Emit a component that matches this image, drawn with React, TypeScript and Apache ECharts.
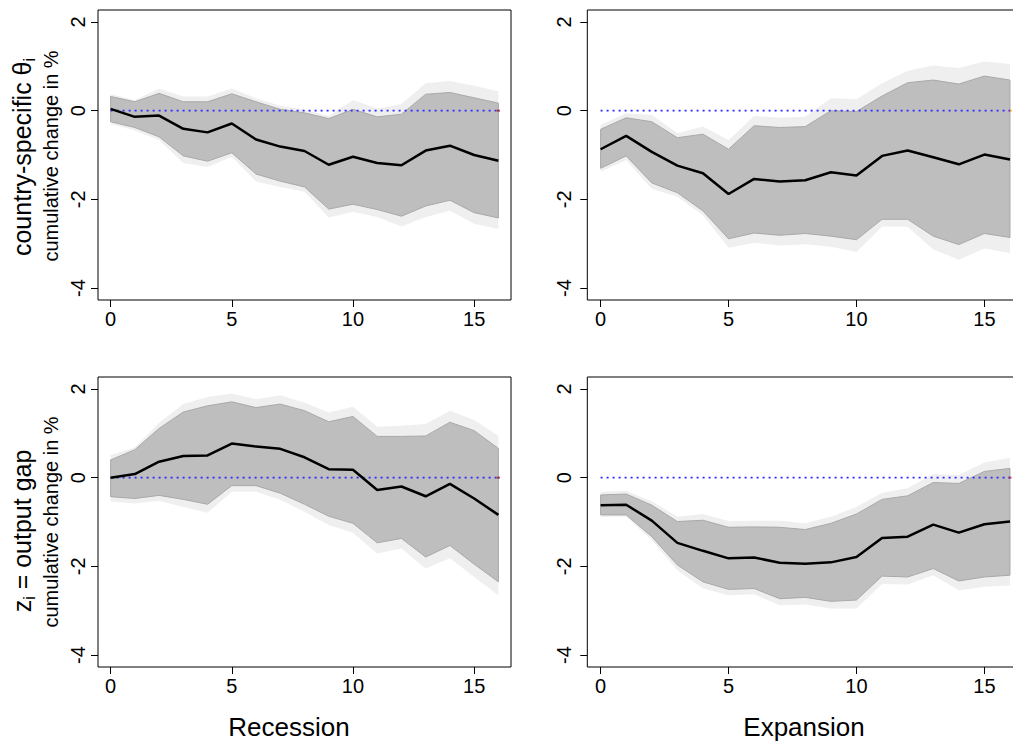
import React, { useEffect, useRef } from "react";
import * as echarts from "echarts";

const FONT = '"Liberation Sans", Arial, Helvetica, sans-serif';

// ---------- data ----------
const horizons = [0, 1, 2, 3, 4, 5, 6, 7, 8, 9, 10, 11, 12, 13, 14, 15, 16];
const xTicks = [0, 5, 10, 15];
const yTicks = [-4, -2, 0, 2];
const baseline = 0;

// Recession, country-specific theta
const recThetaMedian = [0.04, -0.14, -0.11, -0.41, -0.49, -0.29, -0.65, -0.81, -0.91, -1.22, -1.04, -1.18, -1.23, -0.9, -0.79, -1.0, -1.13];
const recThetaInnerUp = [0.32, 0.2, 0.39, 0.2, 0.2, 0.38, 0.2, 0.03, -0.05, -0.18, 0.03, -0.14, -0.08, 0.37, 0.41, 0.29, 0.17];
const recThetaInnerLo = [-0.25, -0.38, -0.59, -1.02, -1.14, -0.95, -1.43, -1.59, -1.72, -2.22, -2.11, -2.23, -2.38, -2.15, -2.02, -2.3, -2.42];
const recThetaOuterUp = [0.37, 0.24, 0.5, 0.32, 0.32, 0.5, 0.28, 0.11, 0.02, -0.12, 0.24, 0.05, 0.15, 0.62, 0.67, 0.56, 0.44];
const recThetaOuterLo = [-0.3, -0.45, -0.66, -1.18, -1.27, -1.04, -1.6, -1.72, -1.83, -2.41, -2.28, -2.4, -2.61, -2.4, -2.26, -2.55, -2.67];

// Expansion, country-specific theta
const expThetaMedian = [-0.87, -0.57, -0.93, -1.24, -1.41, -1.88, -1.54, -1.6, -1.57, -1.39, -1.46, -1.02, -0.9, -1.05, -1.21, -0.99, -1.1];
const expThetaInnerUp = [-0.42, -0.16, -0.25, -0.61, -0.53, -0.87, -0.34, -0.38, -0.36, 0.0, -0.02, 0.33, 0.63, 0.69, 0.6, 0.78, 0.69];
const expThetaInnerLo = [-1.3, -1.02, -1.63, -1.85, -2.26, -2.89, -2.76, -2.81, -2.77, -2.83, -2.91, -2.45, -2.45, -2.83, -3.02, -2.77, -2.86];
const expThetaOuterUp = [-0.32, -0.06, -0.1, -0.51, -0.36, -0.66, -0.12, -0.16, -0.14, 0.28, 0.26, 0.62, 0.9, 1.02, 0.96, 1.11, 1.05];
const expThetaOuterLo = [-1.38, -1.11, -1.76, -1.94, -2.36, -3.09, -2.98, -3.04, -3.01, -3.07, -3.19, -2.61, -2.62, -3.13, -3.36, -3.11, -3.21];

// Recession, output gap
const recGapMedian = [0.0, 0.08, 0.36, 0.49, 0.5, 0.77, 0.7, 0.65, 0.46, 0.19, 0.18, -0.28, -0.2, -0.42, -0.14, -0.47, -0.84];
const recGapInnerUp = [0.4, 0.63, 1.11, 1.48, 1.62, 1.71, 1.58, 1.66, 1.51, 1.26, 1.38, 0.93, 0.93, 0.94, 1.25, 1.06, 0.66];
const recGapInnerLo = [-0.43, -0.47, -0.4, -0.49, -0.6, -0.18, -0.18, -0.35, -0.6, -0.87, -1.03, -1.47, -1.37, -1.79, -1.53, -1.95, -2.35];
const recGapOuterUp = [0.51, 0.68, 1.24, 1.66, 1.82, 1.9, 1.77, 1.86, 1.69, 1.47, 1.6, 1.15, 1.17, 1.21, 1.51, 1.3, 0.94];
const recGapOuterLo = [-0.54, -0.58, -0.52, -0.66, -0.79, -0.32, -0.32, -0.5, -0.77, -1.07, -1.24, -1.71, -1.6, -2.05, -1.82, -2.24, -2.65];

// Expansion, output gap
const expGapMedian = [-0.62, -0.61, -0.97, -1.47, -1.65, -1.82, -1.8, -1.92, -1.94, -1.91, -1.79, -1.36, -1.33, -1.06, -1.24, -1.05, -0.99];
const expGapInnerUp = [-0.39, -0.37, -0.62, -0.99, -0.96, -1.12, -1.11, -1.12, -1.17, -1.03, -0.82, -0.49, -0.41, -0.11, -0.13, 0.14, 0.21];
const expGapInnerLo = [-0.84, -0.84, -1.33, -1.97, -2.35, -2.52, -2.5, -2.73, -2.7, -2.79, -2.76, -2.22, -2.24, -2.05, -2.33, -2.24, -2.2];
const expGapOuterUp = [-0.32, -0.3, -0.53, -0.88, -0.82, -0.98, -0.97, -0.97, -1.03, -0.88, -0.66, -0.34, -0.24, 0.08, 0.06, 0.34, 0.45];
const expGapOuterLo = [-0.88, -0.88, -1.41, -2.09, -2.5, -2.65, -2.63, -2.88, -2.86, -2.95, -2.95, -2.4, -2.41, -2.2, -2.54, -2.46, -2.43];

const columnTitles = ["Recession", "Expansion"];
const yAxisSubtitle = "cumulative change in %";

// ---------- layout ----------
const panels = [
  { grid: { left: 98, top: 10, width: 413, height: 290 }, med: recThetaMedian, iu: recThetaInnerUp, il: recThetaInnerLo, ou: recThetaOuterUp, ol: recThetaOuterLo, endColor: "#a01010", labelMargin: 10 },
  { grid: { left: 587.3, top: 10, width: 436, height: 290 }, med: expThetaMedian, iu: expThetaInnerUp, il: expThetaInnerLo, ou: expThetaOuterUp, ol: expThetaOuterLo, endColor: "#ff8000", labelMargin: 13 },
  { grid: { left: 98, top: 377, width: 413, height: 290 }, med: recGapMedian, iu: recGapInnerUp, il: recGapInnerLo, ou: recGapOuterUp, ol: recGapOuterLo, endColor: "#a01010", labelMargin: 10 },
  { grid: { left: 587.3, top: 377, width: 436, height: 290 }, med: expGapMedian, iu: expGapInnerUp, il: expGapInnerLo, ou: expGapOuterUp, ol: expGapOuterLo, endColor: "#e02020", labelMargin: 13 },
];

function bandSeries(gi: number, lo: number[], hi: number[], fill: string, stroke: string, lw: number) {
  return {
    type: "custom",
    xAxisIndex: gi,
    yAxisIndex: gi,
    silent: true,
    data: horizons.map((h, i) => [h, lo[i], hi[i]]),
    encode: { x: 0, y: [1, 2] },
    renderItem: (params: any, api: any) => {
      if (params.dataIndex !== 0) return null;
      const pts: number[][] = [];
      for (let i = 0; i < horizons.length; i++) pts.push(api.coord([horizons[i], hi[i]]));
      for (let i = horizons.length - 1; i >= 0; i--) pts.push(api.coord([horizons[i], lo[i]]));
      return {
        type: "polygon",
        shape: { points: pts },
        style: { fill, stroke, lineWidth: lw },
      };
    },
  };
}

export default function App() {
  const ref = useRef<HTMLDivElement>(null);

  useEffect(() => {
    document.body.style.margin = "0";
    document.body.style.overflow = "hidden";
    const chart = echarts.init(ref.current!, undefined, { renderer: "svg" });

    const grids = panels.map((p) => ({
      ...p.grid,
      show: true,
      borderColor: "#000",
      borderWidth: 1,
      backgroundColor: "transparent",
      containLabel: false,
      outerBoundsMode: "none",
    }));

    const xAxes = panels.map((p, i) => ({
      type: "value",
      gridIndex: i,
      position: "bottom",
      min: -0.52,
      max: 16.52,
      axisLine: { show: false, onZero: false },
      splitLine: { show: false },
      axisTick: { show: true, inside: false, length: 7, customValues: xTicks, lineStyle: { color: "#000", width: 1 } },
      axisLabel: { show: true, customValues: xTicks, fontSize: 20, color: "#000", fontFamily: FONT, margin: 9 },
    }));

    const yAxes = panels.map((p, i) => ({
      type: "value",
      gridIndex: i,
      position: "left",
      min: -4.27,
      max: 2.27,
      axisLine: { show: false, onZero: false },
      splitLine: { show: false },
      axisTick: { show: true, inside: false, length: 7, customValues: yTicks, lineStyle: { color: "#000", width: 1 } },
      axisLabel: { show: true, customValues: yTicks, rotate: 90, fontSize: 20, color: "#000", fontFamily: FONT, margin: p.labelMargin },
    }));

    const series: any[] = [];
    panels.forEach((p, i) => {
      series.push(bandSeries(i, p.ol, p.ou, "#efefef", "none", 0));
      series.push(bandSeries(i, p.il, p.iu, "#bebebe", "#a9a9a9", 1));
      series.push({
        type: "line",
        xAxisIndex: i,
        yAxisIndex: i,
        data: [horizons[0], horizons[horizons.length - 1]].map((h) => [h, baseline]),
        symbol: "none",
        silent: true,
        lineStyle: { color: "#2a2aff", width: 1.6, type: [2, 4] },
      });
      series.push({
        type: "line",
        xAxisIndex: i,
        yAxisIndex: i,
        data: horizons.map((h, k) => [h, p.med[k]]),
        symbol: "none",
        silent: true,
        lineStyle: { color: "#000", width: 2.5 },
      });
      series.push({
        type: "scatter",
        xAxisIndex: i,
        yAxisIndex: i,
        data: [[horizons[horizons.length - 1], baseline]],
        symbol: "rect",
        symbolSize: [3, 2],
        silent: true,
        itemStyle: { color: p.endColor },
      });
    });

    const titleStyle = (text: string, size: number) => ({
      text,
      fontSize: size,
      fontFamily: FONT,
      fill: "#000",
      align: "center",
      verticalAlign: "middle",
    });

    const richTitle = (text: string) => ({
      text,
      fontFamily: FONT,
      fill: "#000",
      align: "center",
      verticalAlign: "middle",
      rich: {
        m: { fontSize: 25, lineHeight: 30, fontFamily: FONT, fill: "#000" },
        s: { fontSize: 16, lineHeight: 16, verticalAlign: "bottom", fontFamily: FONT, fill: "#000" },
      },
    });

    const graphic: any[] = [
      { type: "text", x: 289, y: 727, style: titleStyle(columnTitles[0], 26) },
      { type: "text", x: 804, y: 727, style: titleStyle(columnTitles[1], 26) },
      { type: "text", x: 51, y: 156, rotation: Math.PI / 2, style: titleStyle(yAxisSubtitle, 20) },
      { type: "text", x: 51, y: 522, rotation: Math.PI / 2, style: titleStyle(yAxisSubtitle, 20) },
      { type: "text", x: 22, y: 157, rotation: Math.PI / 2, style: richTitle("{m|country-specific θ}{s|i}") },
      { type: "text", x: 22, y: 531, rotation: Math.PI / 2, style: richTitle("{m|z}{s|i}{m| = output gap}") },
    ];

    chart.setOption({
      animation: false,
      backgroundColor: "#fff",
      grid: grids,
      xAxis: xAxes,
      yAxis: yAxes,
      series,
      graphic,
    });

    return () => chart.dispose();
  }, []);

  return <div ref={ref} style={{ position: "absolute", left: 0, top: 0, width: 1013, height: 744 }} />;
}
